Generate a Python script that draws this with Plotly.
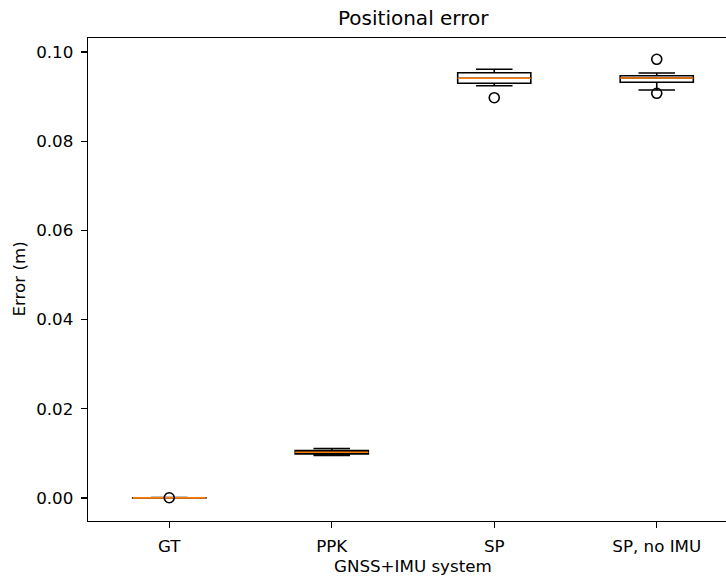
import plotly.graph_objects as go

categories = ["GT", "PPK", "SP", "SP, no IMU"]
positions = [1, 2, 3, 4]
q1 = [0.00000, 0.00990, 0.09298, 0.09321]
median = [0.00002, 0.01025, 0.09410, 0.09417]
q3 = [0.00004, 0.01062, 0.09536, 0.09469]
lower_whisker = [0.00000, 0.00955, 0.09244, 0.09148]
upper_whisker = [0.00008, 0.01108, 0.09612, 0.09529]
outlier_x = [1, 3, 4, 4]
outlier_y = [0.00005, 0.08975, 0.09836, 0.09074]

box_width = 0.45
font = "DejaVu Sans, Arial, sans-serif"

fig = go.Figure()
fig.add_trace(go.Box(
    x=positions, q1=q1, median=median, q3=q3,
    lowerfence=lower_whisker, upperfence=upper_whisker,
    width=box_width, whiskerwidth=0.5, boxpoints=False,
    line=dict(color="black", width=1.6), fillcolor="rgba(255,255,255,0)",
    showlegend=False, hoverinfo="skip",
))

mx, my = [], []
for p, m in zip(positions, median):
    mx += [p - box_width / 2, p + box_width / 2, None]
    my += [m, m, None]
fig.add_trace(go.Scatter(x=mx, y=my, mode="lines",
                         line=dict(color="#ff7f0e", width=1.6),
                         showlegend=False, hoverinfo="skip"))

fig.add_trace(go.Scatter(x=outlier_x, y=outlier_y, mode="markers",
                         marker=dict(symbol="circle-open", size=10,
                                     color="black", line=dict(width=1.6, color="black")),
                         showlegend=False, hoverinfo="skip"))

axis_common = dict(showgrid=False, zeroline=False, showline=True,
                   linecolor="black", linewidth=1.3, ticks="outside", ticklen=6,
                   tickwidth=1.3, tickcolor="black", tickfont=dict(size=16.7),
                   ticklabelstandoff=4)

# Original figure extends past the 726 px window; it is cropped at the right edge.
fig.update_layout(
    width=744, height=576,
    margin=dict(l=88, r=6, t=38, b=55),
    paper_bgcolor="white", plot_bgcolor="white",
    hovermode=False,
    font=dict(family=font, size=16.7, color="black"),
    xaxis=dict(range=[0.5, 4.5], tickvals=positions, ticktext=categories,
               mirror=True, **axis_common),
    yaxis=dict(range=[-0.00516, 0.10314], tickvals=[0, 0.02, 0.04, 0.06, 0.08, 0.10],
               ticktext=["0.00", "0.02", "0.04", "0.06", "0.08", "0.10"],
               mirror=True, **axis_common),
    annotations=[
        dict(text="Positional error", xref="paper", yref="paper", x=0.5, y=1,
             yshift=6, xanchor="center", yanchor="bottom", showarrow=False,
             font=dict(size=20, family=font)),
        dict(text="GNSS+IMU system", xref="paper", yref="paper", x=0.5, y=0,
             yshift=-33, xanchor="center", yanchor="top", showarrow=False,
             font=dict(size=16.7, family=font)),
        dict(text="Error (m)", xref="paper", yref="paper", x=0, y=0.5,
             xshift=-70, xanchor="center", yanchor="middle", showarrow=False,
             textangle=-90, font=dict(size=16.7, family=font)),
    ],
)

fig.write_html(
    "out.html",
    config={"displayModeBar": False, "staticPlot": True},
    post_script="document.body.style.margin='0';document.body.style.overflow='hidden';",
)
